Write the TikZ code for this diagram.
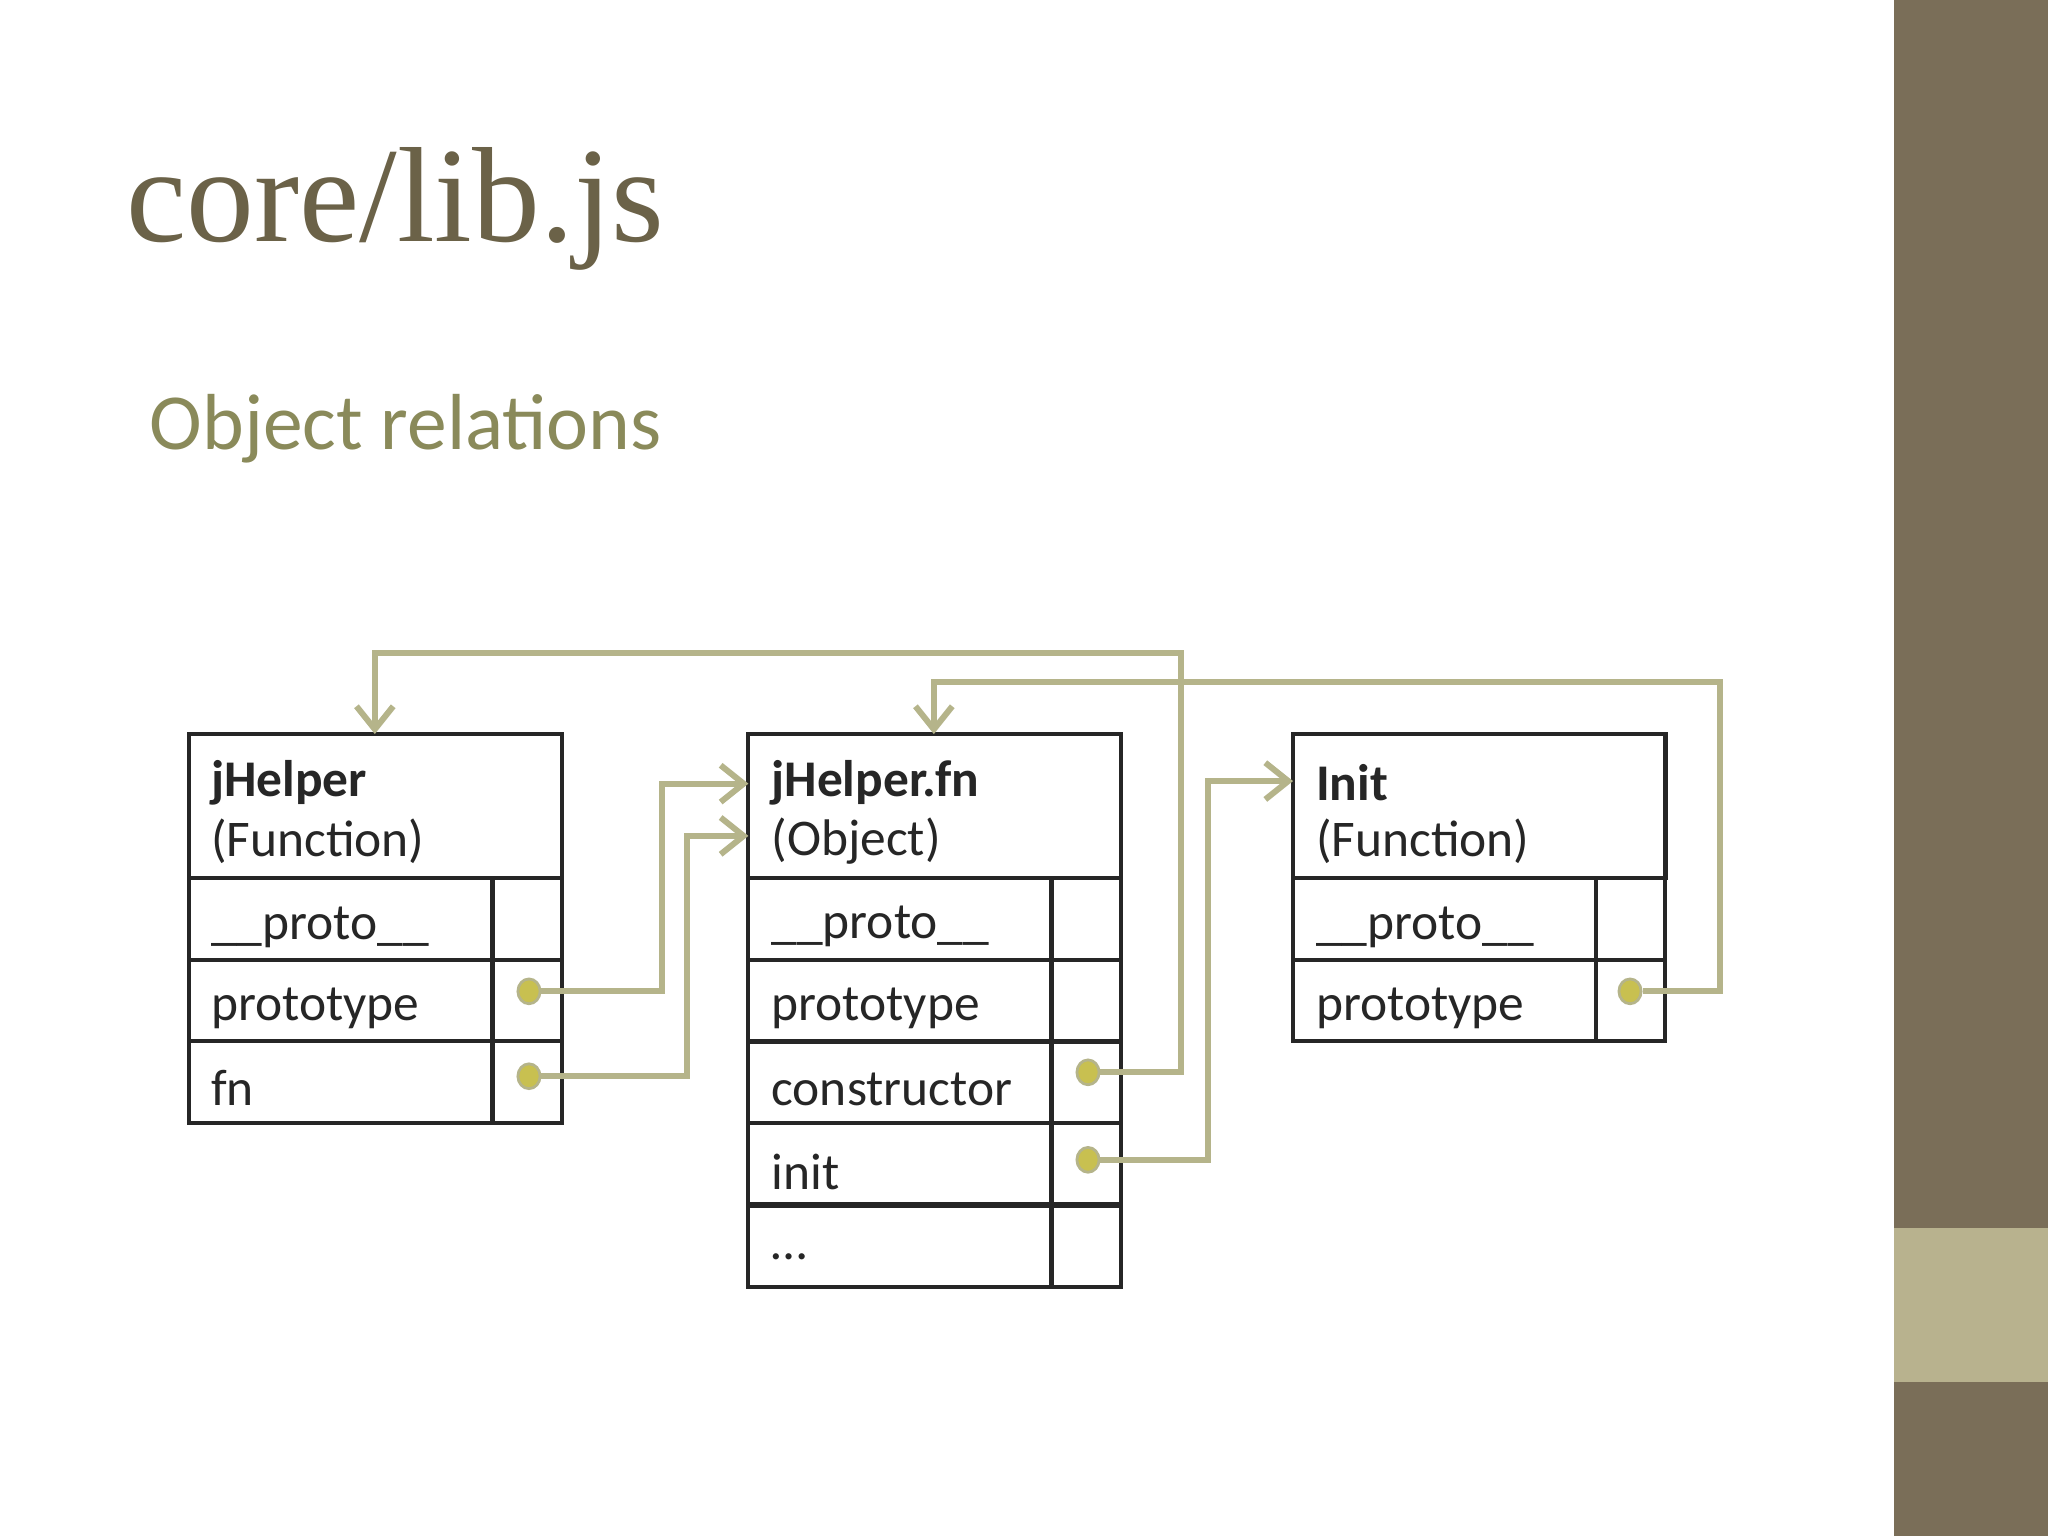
\documentclass[tikz,border=0pt]{standalone}
\usepackage{fontspec}
\setmainfont{Carlito}
\newfontfamily\titlefont{Liberation Serif}
\usetikzlibrary{arrows.meta,shapes.geometric}
\definecolor{titlec}{HTML}{6B6248}
\definecolor{subc}{HTML}{8A8A5A}
\definecolor{bardark}{HTML}{7A6E58}
\definecolor{barlight}{HTML}{B8B28E}
\definecolor{linec}{HTML}{B5B48A}
\definecolor{dotc}{HTML}{C8C050}
\tikzset{
 cell/.style={draw=black!85, line width=0.9pt, anchor=north west, inner sep=0pt, outer sep=0pt},
 lbl/.style={anchor=west, font=\fontsize{11.2pt}{14pt}\selectfont, text=black!85, inner sep=0pt},
 conn/.style={draw=linec, line width=1.3pt},
 arr/.style={conn, -{Straight Barb[length=5pt,width=8pt]}},
 dotn/.style={ellipse, fill=dotc, draw=linec, line width=0.6pt, minimum width=0.17cm, minimum height=0.19cm, inner sep=0pt}
}
\begin{document}
\begin{tikzpicture}[x=0.01cm,y=-0.01cm]
\useasboundingbox (0,0) rectangle (1568,1176);
\fill[white] (0,0) rectangle (1568,1176);
\fill[bardark] (1450,0) rectangle (1568,1176);
\fill[barlight] (1450,940) rectangle (1568,1058);
\node[anchor=base west, inner sep=0pt, text=titlec, font=\titlefont\fontsize{29.5pt}{34pt}\selectfont] (title) at (96,185) {core/lib.js};
\node[anchor=base west, inner sep=0pt, text=subc, font=\fontsize{17.3pt}{20pt}\selectfont] (sub) at (114,344) {Object relations};
% Box 1
\node[cell, minimum width=2.85cm, minimum height=1.10cm] (h1) at (145,562) {};
\node[cell, minimum width=2.32cm, minimum height=0.63cm] (a1) at (145,672) {};
\node[cell, minimum width=0.53cm, minimum height=0.63cm] (a1v) at (377,672) {};
\node[cell, minimum width=2.32cm, minimum height=0.62cm] (b1) at (145,735) {};
\node[cell, minimum width=0.53cm, minimum height=0.62cm] (b1v) at (377,735) {};
\node[cell, minimum width=2.32cm, minimum height=0.63cm] (c1) at (145,797) {};
\node[cell, minimum width=0.53cm, minimum height=0.63cm] (c1v) at (377,797) {};
\node[lbl, font=\fontsize{11.2pt}{14pt}\selectfont\bfseries] at (161,599) {jHelper};
\node[lbl] at (161,644) {(Function)};
\node[lbl] at (161,710) {\_\_proto\_\_};
\node[lbl] at (161,772) {prototype};
\node[lbl] at (161,833) {fn};
% Box 2
\node[cell, minimum width=2.85cm, minimum height=1.10cm] (h2) at (573,562) {};
\foreach \n/\y/\t in {a2/672/\_\_proto\_\_, b2/735/prototype, c2/797/constructor, d2/860/init}{
 \node[cell, minimum width=2.32cm, minimum height=0.63cm] (\n) at (573,\y) {};
 \node[cell, minimum width=0.53cm, minimum height=0.63cm] (\n v) at (805,\y) {};
 \node[lbl] at (590,\y+37) {\t};
}
\node[cell, minimum width=2.32cm, minimum height=0.63cm] (e2) at (573,922) {};
\node[cell, minimum width=0.53cm, minimum height=0.63cm] (e2v) at (805,922) {};
\node[lbl] at (590,962) {\dots};
\node[lbl, font=\fontsize{11.2pt}{14pt}\selectfont\bfseries] at (590,599) {jHelper.fn};
\node[lbl] at (590,644) {(Object)};
% Box 3
\node[cell, minimum width=2.85cm, minimum height=1.10cm] (h3) at (990,562) {};
\node[cell, minimum width=2.32cm, minimum height=0.63cm] (a3) at (990,672) {};
\node[cell, minimum width=0.53cm, minimum height=0.63cm] (a3v) at (1222,672) {};
\node[cell, minimum width=2.32cm, minimum height=0.62cm] (b3) at (990,735) {};
\node[cell, minimum width=0.53cm, minimum height=0.62cm] (b3v) at (1222,735) {};
\node[lbl, font=\fontsize{11.2pt}{14pt}\selectfont\bfseries] at (1007,599) {Init};
\node[lbl] at (1007,644) {(Function)};
\node[lbl] at (1007,710) {\_\_proto\_\_};
\node[lbl] at (1007,772) {prototype};
% dots
\node[dotn] (d1) at (405,759) {};
\node[dotn] (d2) at (405,824) {};
\node[dotn] (d3) at (833,821) {};
\node[dotn] (d4) at (833,888) {};
\node[dotn] (d5) at (1248,759) {};
\coordinate (t1) at (573,600);
\coordinate (t2) at (573,640);
\coordinate (t3) at (287,562);
\coordinate (t4) at (990,598);
\coordinate (t5) at (715,562);
\draw[arr] (d1.east) -- (507,759) -- (507,600) -- (t1);
\draw[arr] (d2.east) -- (526,824) -- (526,640) -- (t2);
\draw[arr] (d3.east) -- (904,821) -- (904,500) -- (287,500) -- (t3);
\draw[arr] (d4.east) -- (925,888) -- (925,598) -- (t4);
\draw[arr] (d5.east) -- (1317,759) -- (1317,522) -- (715,522) -- (t5);
\end{tikzpicture}
\end{document}
